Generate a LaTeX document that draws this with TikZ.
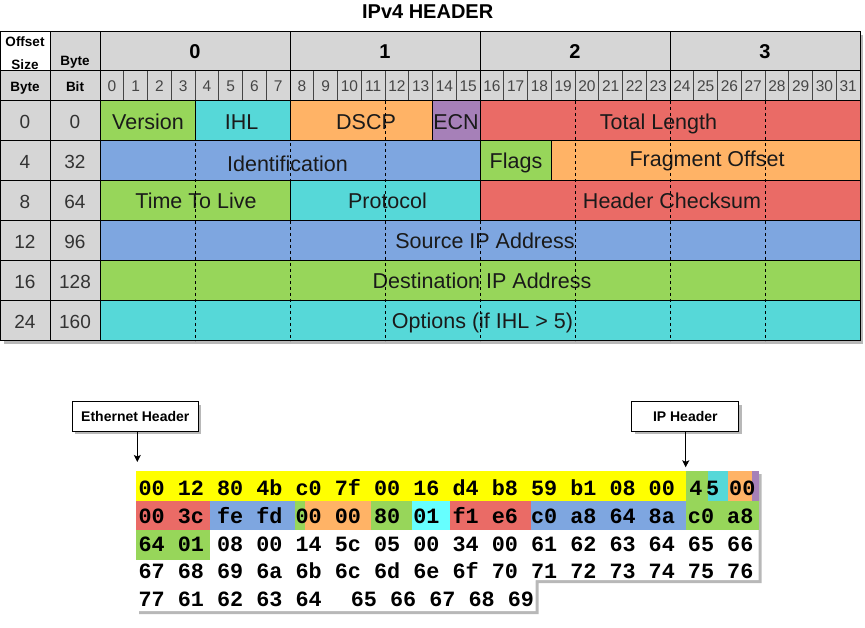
\documentclass[tikz,border=0pt]{standalone}
\usepackage{fontspec}
\setmainfont{Liberation Sans}
\newfontfamily\hexfont{Liberation Mono}
\usetikzlibrary{arrows.meta,shadows}

\definecolor{fgreen}{HTML}{97D65A}
\definecolor{fcyan}{HTML}{56D8D8}
\definecolor{forange}{HTML}{FFB366}
\definecolor{fred}{HTML}{EA6B66}
\definecolor{fblue}{HTML}{7EA6E0}
\definecolor{fpurple}{HTML}{A680B8}
\definecolor{hgray}{HTML}{D6D6D6}
\definecolor{shadowgray}{HTML}{B8B8B8}
\definecolor{byellow}{HTML}{FFFF00}
\definecolor{bcyan}{HTML}{66FFFF}
\definecolor{numgray}{HTML}{454545}
\definecolor{rowgray}{HTML}{333333}
\definecolor{labelcol}{HTML}{1A1A1A}

% a filled, outlined box between two corners (x1,y1)-(x2,y2)
\newcommand\fieldrect[6]{%
  \node[fld, fill=#2, minimum width={(#5)-(#3)}, minimum height={(#6)-(#4)}]
    (#1) at ({((#3)+(#5))/2},{((#4)+(#6))/2}) {};}

\begin{document}
\begin{tikzpicture}[x=1pt,y=-1pt,
  fld/.style={draw=black, line width=1pt, inner sep=0pt, outer sep=0pt},
  lbl/.style={anchor=base, inner sep=0pt, text=labelcol, font=\fontsize{21.5}{24}\selectfont},
  hdr/.style={anchor=base, inner sep=0pt, font=\bfseries\fontsize{13.5}{15}\selectfont},
  bytenum/.style={anchor=base, inner sep=0pt, font=\bfseries\fontsize{20}{22}\selectfont},
  bitnum/.style={anchor=base, inner sep=0pt, text=numgray, font=\fontsize{15.5}{17}\selectfont},
  rownum/.style={anchor=base, inner sep=0pt, text=rowgray, font=\fontsize{19}{21}\selectfont},
  titletext/.style={anchor=base, inner sep=0pt, font=\bfseries\fontsize{20}{22}\selectfont},
  dashline/.style={line width=0.9pt, dash pattern=on 3pt off 3pt},
  bitline/.style={line width=0.8pt, draw=numgray},
  hexrow/.style={anchor=base west, inner sep=0pt, font=\hexfont\bfseries\fontsize{21.8}{26}\selectfont},
  tag/.style={draw=black, fill=white, line width=1pt, inner sep=0pt, outer sep=0pt,
    font=\bfseries\fontsize{14}{16}\selectfont,
    drop shadow={shadow xshift=3pt, shadow yshift=-3pt, fill=shadowgray, opacity=1}},
  arr/.style={-{Stealth[length=7pt,width=7pt,inset=1.5pt]}, line width=1pt}]

\useasboundingbox (0,0) rectangle (865,628);

% ---------- title ----------
\node[titletext] (title) at (427.7,19) {IPv4 HEADER};

% ---------- table shadow ----------
\fill[shadowgray] (3.6,35) rectangle (863,344);

% ---------- header rows ----------
\fieldrect{hOff}{white}{0.6}{32}{50}{71}
\fieldrect{hByteA}{hgray}{50}{32}{100}{71}
\fieldrect{hB0}{hgray}{100}{32}{290}{71}
\fieldrect{hB1}{hgray}{290}{32}{480}{71}
\fieldrect{hB2}{hgray}{480}{32}{670}{71}
\fieldrect{hB3}{hgray}{670}{32}{860}{71}
\fieldrect{hByteB}{hgray}{0.6}{71}{50}{101}
\fieldrect{hBit}{hgray}{50}{71}{100}{101}
\fieldrect{hBits}{hgray}{100}{71}{860}{101}

\foreach \b in {1,...,31} {
  \draw[bitline] ({100+23.75*\b},71) -- ({100+23.75*\b},102.5);
  }
\foreach \b in {8,16,24} {
  \draw[line width=1pt] ({100+23.75*\b},71) -- ({100+23.75*\b},101);
  }

\node[hdr] (tOffset) at (25,46.5) {Offset};
\node[hdr] (tSize) at (25,69.5) {Size};
\node[hdr] (tByteA) at (75,66) {Byte};
\node[hdr] (tByteB) at (25,91.7) {Byte};
\node[hdr] (tBit) at (75,91.7) {Bit};
\foreach \k in {0,1,2,3} {
  \node[bytenum] (byte\k) at ({195+190*\k},58.3) {\k};
  }
\foreach \b in {0,...,31} {
  \node[bitnum] (bit\b) at ({111.875+23.75*\b},91.7) {\b};
  }

% ---------- offset columns ----------
\foreach \o/\bt [count=\i from 0] in {0/0,4/32,8/64,12/96,16/128,24/160} {
  \fieldrect{offc\i}{hgray}{0.6}{101+40*\i}{50}{141+40*\i}
  \fieldrect{bitc\i}{hgray}{50}{101+40*\i}{100}{141+40*\i}
  \node[rownum] (offl\i) at (25,{128.3+40*\i}) {\o};
  \node[rownum] (bitl\i) at (75,{128.3+40*\i}) {\bt};
  }

% ---------- header fields ----------
\fieldrect{fVer}{fgreen}{100}{101}{195}{141}
\fieldrect{fIhl}{fcyan}{195}{101}{290}{141}
\fieldrect{fDscp}{forange}{290}{101}{432.5}{141}
\fieldrect{fEcn}{fpurple}{432.5}{101}{480}{141}
\fieldrect{fLen}{fred}{480}{101}{860}{141}
\fieldrect{fId}{fblue}{100}{141}{480}{181}
\fieldrect{fFlags}{fgreen}{480}{141}{551.25}{181}
\fieldrect{fFrag}{forange}{551.25}{141}{860}{181}
\fieldrect{fTtl}{fgreen}{100}{181}{290}{221}
\fieldrect{fProto}{fcyan}{290}{181}{480}{221}
\fieldrect{fSum}{fred}{480}{181}{860}{221}
\fieldrect{fSrc}{fblue}{100}{221}{860}{261}
\fieldrect{fDst}{fgreen}{100}{261}{860}{301}
\fieldrect{fOpt}{fcyan}{100}{301}{860}{341}

\node[lbl] (lVer) at (148,129.3) {Version};
\node[lbl] (lIhl) at (241.5,129.3) {IHL};
\node[lbl] (lDscp) at (366,129.3) {DSCP};
\node[lbl] (lEcn) at (456,129.3) {ECN};
\node[lbl] (lLen) at (658.5,129.8) {Total Length};
\node[lbl] (lId) at (287.5,171.5) {Identification};
\node[lbl] (lFlags) at (516,168.3) {Flags};
\node[lbl] (lFrag) at (707,166.7) {Fragment Offset};
\node[lbl] (lTtl) at (196,208.3) {Time To Live};
\node[lbl] (lProto) at (387.5,208.3) {Protocol};
\node[lbl] (lSum) at (672,208.3) {Header Checksum};
\node[lbl] (lSrc) at (485,248.3) {Source IP Address};
\node[lbl] (lDst) at (482,288.3) {Destination IP Address};
\node[lbl] (lOpt) at (482.5,328.3) {Options (if IHL > 5)};

% 4-bit guide lines across the data rows
\foreach \k in {1,...,7} {
  \draw[dashline] ({100+95*\k},101) -- ({100+95*\k},341);
  }

% ---------- captured bytes ----------
\fill[shadowgray] (139,474) -- (761.5,474) -- (761.5,583) -- (538.5,583)
  -- (538.5,614) -- (139,614) -- cycle;
\fill[white] (136,471) -- (758.5,471) -- (758.5,580) -- (535.5,580)
  -- (535.5,611) -- (136,611) -- cycle;

% row 1
\fill[byellow] (136,471) rectangle (686,501);
\fill[fgreen] (686,471) rectangle (707.5,501);
\fill[fcyan] (707.5,471) rectangle (727.5,501);
\fill[forange] (727.5,471) rectangle (751.5,501);
\fill[fpurple] (751.5,471) rectangle (758.5,501);
% row 2
\fill[fred] (136,501) rectangle (210,530);
\fill[fblue] (210,501) rectangle (294.5,530);
\fill[fgreen] (294.5,501) rectangle (305,530);
\fill[forange] (305,501) rectangle (370.7,530);
\fill[fgreen] (370.7,501) rectangle (411.5,530);
\fill[bcyan] (411.5,501) rectangle (450,530);
\fill[fred] (450,501) rectangle (530.5,530);
\fill[fblue] (530.5,501) rectangle (686,530);
\fill[fgreen] (686,501) rectangle (758.5,530);
% row 3
\fill[fgreen] (136,530) rectangle (210,560);

\node[hexrow] (hex1) at (138.4,495) {00 12 80 4b c0 7f 00 16 d4 b8 59 b1 08 00 \hspace{1.5pt}4\hspace{3.5pt}5\hspace{-3pt} 00};
\node[hexrow] (hex2) at (138.4,523.5) {00 3c fe fd 00 00 80 01 f1 e6 c0 a8 64 8a c0 a8};
\node[hexrow] (hex3) at (138.4,551.5) {64 01 08 00 14 5c 05 00 34 00 61 62 63 64 65 66};
\node[hexrow] (hex4) at (138.4,578.5) {67 68 69 6a 6b 6c 6d 6e 6f 70 71 72 73 74 75 76};
\node[hexrow] (hex5) at (138.4,606.5) {77 61 62 63 64\hspace{16pt} 65 66 67 68 69};

% ---------- callouts ----------
\node[tag, minimum width=126pt, minimum height=29.6pt] (eth) at (135.3,416.5) {Ethernet Header};
\node[tag, minimum width=107.3pt, minimum height=29.6pt] (iph) at (685.3,416.5) {IP Header};

\coordinate (ethTip) at (137.3,462);
\coordinate (ipTip) at (685.7,467.3);
\draw[arr] (ethTip |- eth.south) -- (ethTip);
\draw[arr] (ipTip |- iph.south) -- (ipTip);

\end{tikzpicture}
\end{document}
